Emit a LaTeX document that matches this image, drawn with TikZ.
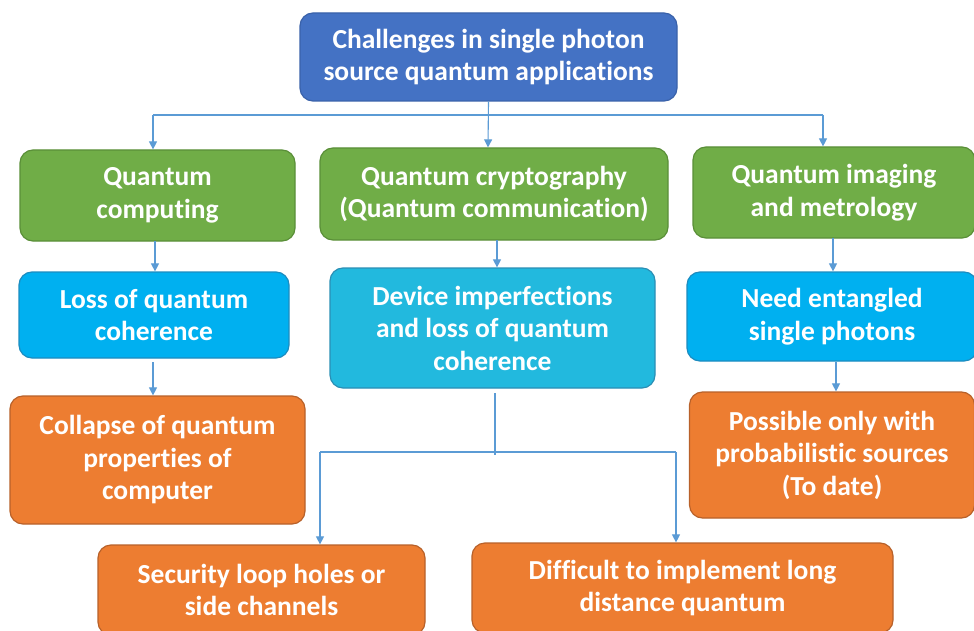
\documentclass[tikz,border=0pt]{standalone}
\usepackage{fontspec}
\setmainfont{Carlito}[Ligatures={NoCommon}]
\usetikzlibrary{arrows.meta}
\definecolor{topblue}{HTML}{4472C4}
\definecolor{topedge}{HTML}{3A62AA}
\definecolor{grn}{HTML}{70AD47}
\definecolor{grnedge}{HTML}{5A8F38}
\definecolor{sky}{HTML}{00B0F0}
\definecolor{skyedge}{HTML}{1C8CC0}
\definecolor{cyanm}{HTML}{22B9DE}
\definecolor{cyanedge}{HTML}{2A8FB5}
\definecolor{org}{HTML}{ED7D31}
\definecolor{orgedge}{HTML}{B8612A}
\definecolor{lnk}{HTML}{5B9BD5}
\tikzset{
  boxbase/.style={rectangle, rounded corners=13pt, line width=1.2pt, text=white,
    font=\fontsize{27.5}{32.5}\selectfont\bfseries, align=center, inner sep=0pt},
  topbox/.style={boxbase, fill=topblue, draw=topedge},
  greenbox/.style={boxbase, fill=grn, draw=grnedge},
  skybox/.style={boxbase, fill=sky, draw=skyedge},
  cyanbox/.style={boxbase, fill=cyanm, draw=cyanedge},
  orangebox/.style={boxbase, fill=org, draw=orgedge},
  link/.style={draw=lnk, line width=1.1pt},
  arr/.style={link, -{Triangle[length=8pt,width=8pt]}},
}
\begin{document}
\begin{tikzpicture}[x=1pt,y=-1pt]
\useasboundingbox (0,0) rectangle (974,631);
\clip (0,0) rectangle (974,631);
\fill[white] (0,0) rectangle (974,631);

\node[topbox, minimum width=377pt, minimum height=88pt] (top) at (488.5,57) {Challenges in single photon\\source quantum applications};

\node[greenbox, minimum width=275pt, minimum height=91pt] (gl) at (157.5,195.5) {Quantum\\computing};
\node[greenbox, minimum width=348pt, minimum height=92pt] (gm) at (494,194) {Quantum cryptography\\(Quantum communication)};
\node[greenbox, minimum width=282pt, minimum height=91pt] (gr) at (834,192.5) {Quantum imaging\\and metrology};

\node[skybox, minimum width=270pt, minimum height=86pt] (bl) at (154,315) {Loss of quantum\\coherence};
\node[cyanbox, minimum width=325pt, minimum height=120pt] (bm) at (492.5,328) {Device imperfections\\and loss of quantum\\coherence};
\node[skybox, minimum width=290pt, minimum height=89pt] (br) at (832,316.5) {Need entangled\\single photons};

\node[orangebox, minimum width=295pt, minimum height=128pt] (ol) at (157.5,460) {Collapse of quantum\\properties of\\computer};
\node[orangebox, minimum width=285pt, minimum height=126pt] (or) at (832,455) {Possible only with\\probabilistic sources\\(To date)};

\node[orangebox, minimum width=327pt, minimum height=90pt] (obl) at (261.5,590) {Security loop holes or\\side channels};
\node[orangebox, minimum width=421pt, minimum height=90pt] (obr) at (682.5,588) {Difficult to implement long\\distance quantum};

% top bus
\coordinate (bus) at (488,115);
\coordinate (busl) at (153,115);
\coordinate (busr) at (823,115);
\draw[link] (busl) -- (busr);
\draw[arr] (top.south) -- (bus |- gm.north);
\draw[arr] (busl) -- (busl |- gl.north);
\draw[arr] (busr) -- (busr |- gr.north);

% columns
\coordinate (c1) at (155,241);
\coordinate (c2) at (153,362);
\coordinate (c3) at (497,240);
\coordinate (c4) at (833,238);
\coordinate (c5) at (836,362);
\draw[arr] (c1) -- (c1 |- bl.north);
\draw[arr] (c2) -- (c2 |- ol.north);
\draw[arr] (c3) -- (c3 |- bm.north);
\draw[arr] (c4) -- (c4 |- br.north);
\draw[arr] (c5) -- (c5 |- or.north);

% middle split
\coordinate (sp) at (495,393);
\coordinate (spj) at (495,455);
\coordinate (spl) at (320,452);
\coordinate (spr) at (676,452);
\draw[link] (sp) -- (spj);
\draw[link] (spl) -- (spr);
\draw[arr] (spl) -- (spl |- obl.north);
\draw[arr] (spr) -- (spr |- obr.north);
\end{tikzpicture}
\end{document}
